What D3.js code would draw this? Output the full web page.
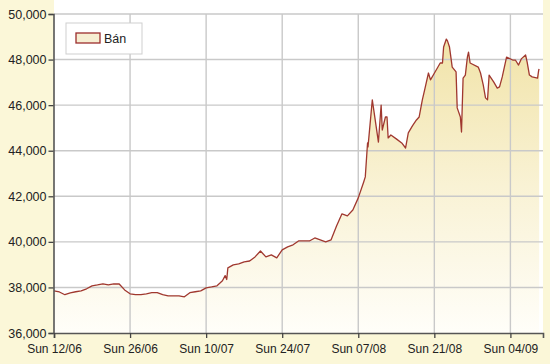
<!DOCTYPE html>
<html>
<head>
<meta charset="utf-8">
<script src="https://cdn.jsdelivr.net/npm/d3@7"></script>
<style>
  body { margin: 0; background: #fbf7d8; }
  svg { display: block; }
  text { font-family: "Liberation Sans", Arial, sans-serif; fill: #222; }
</style>
</head>
<body>
<svg width="550" height="364"></svg>
<script>
// DATA (2011, gold price "Bán", thousand VND)
const dates = [
  "06-12 00","06-13 00","06-14 00","06-15 00","06-16 00","06-17 00","06-18 00","06-19 00",
  "06-20 00","06-21 00","06-22 00","06-23 00","06-24 00","06-25 00","06-26 00","06-27 00",
  "06-28 00","06-29 00","06-30 00","07-01 00","07-02 00","07-03 00","07-04 00","07-05 00",
  "07-06 00","07-07 00","07-08 00","07-09 00","07-10 00","07-11 00","07-12 00","07-13 00",
  "07-13 12","07-13 19","07-14 00","07-15 00","07-16 00","07-17 00","07-18 00","07-19 00",
  "07-20 00","07-21 00","07-22 00","07-23 00","07-24 00","07-25 00","07-26 00","07-27 00",
  "07-28 00","07-29 00","07-30 00","07-31 00","08-01 00","08-02 00","08-03 00","08-04 00",
  "08-05 00","08-06 00","08-07 00","08-08 00","08-08 07","08-08 17","08-08 19","08-09 14",
  "08-10 17","08-11 05","08-11 10","08-12 00","08-12 07","08-12 12","08-13 00","08-14 00",
  "08-15 00","08-15 17","08-16 05","08-17 00","08-17 17","08-18 05","08-18 19","08-19 07",
  "08-19 22","08-20 07","08-21 00","08-22 02","08-22 12","08-22 17","08-23 05","08-23 10",
  "08-23 19","08-24 07","08-25 00","08-25 05","08-25 19","08-26 00","08-26 07","08-26 17",
  "08-27 02","08-27 07","08-27 14","08-29 02","08-29 12","08-30 00","08-30 10","08-30 19",
  "08-31 02","08-31 22","09-01 14","09-02 00","09-02 12","09-03 07","09-04 10","09-04 22",
  "09-05 12","09-06 00","09-06 19","09-07 02","09-07 12","09-08 00","09-09 00","09-09 05",
  "09-09 07"
];
const prices = [
  37850,37800,37680,37760,37810,37850,37940,38070,
  38110,38160,38110,38160,38150,37890,37720,37680,
  37680,37720,37770,37770,37680,37630,37630,37630,
  37590,37770,37810,37850,37980,38020,38070,38290,
  38520,38350,38860,38990,39030,39120,39160,39340,
  39600,39340,39430,39300,39650,39780,39870,40040,
  40040,40040,40170,40090,40000,40090,40700,41230,
  41140,41400,41930,42630,42850,44340,44170,46230,
  44380,46000,44910,45480,45480,44560,44690,44520,
  44340,44120,44780,45100,45350,45480,46230,46750,
  47410,47110,47400,47850,47850,48550,48900,48820,
  48550,47670,47460,45880,45480,44820,47190,47320,
  48110,48330,47850,47670,47410,46890,46320,46230,
  47320,47020,46750,46800,47240,48110,47980,47980,
  47760,48030,48200,47890,47320,47240,47190,47540,
  47590
];
const xTickLabels = ["Sun 12/06","Sun 26/06","Sun 10/07","Sun 24/07","Sun 07/08","Sun 21/08","Sun 04/09"];
const yTicks = [36000, 38000, 40000, 42000, 44000, 46000, 48000, 50000];
const seriesName = "Bán";

const svg = d3.select("svg");
const width = +svg.attr("width");
const height = +svg.attr("height");
const margin = { top: 14, left: 54, right: 7, bottom: 31 };
const innerWidth = width - margin.left - margin.right;
const innerHeight = height - margin.top - margin.bottom;

const parse = d3.timeParse("%Y-%m-%d %H");
const data = dates.map((d, i) => ({ date: parse("2011-" + d), value: prices[i] }));
const tickDates = xTickLabels.map(s => {
  const [dd, mm] = s.slice(4).split("/");
  return parse(`2011-${mm}-${dd} 00`);
});

const x = d3.scaleTime()
  .domain([parse("2011-06-12 00"), parse("2011-09-10 00")])
  .range([0, innerWidth]);
const y = d3.scaleLinear().domain([36000, 50000]).range([innerHeight, 0]);

// plot background (white, from very top down to x axis)
svg.append("rect")
  .attr("x", margin.left).attr("y", 0)
  .attr("width", innerWidth).attr("height", margin.top + innerHeight)
  .attr("fill", "#fff");

const defs = svg.append("defs");
const grad = defs.append("linearGradient")
  .attr("id", "areaFill")
  .attr("gradientUnits", "userSpaceOnUse")
  .attr("x1", 0).attr("y1", y(49000)).attr("x2", 0).attr("y2", y(36000));
grad.append("stop").attr("offset", "0%").attr("stop-color", "#f1e3a8");
grad.append("stop").attr("offset", "50%").attr("stop-color", "#f9f2d4");
grad.append("stop").attr("offset", "100%").attr("stop-color", "#fffef9");

const g = svg.append("g").attr("transform", `translate(${margin.left},${margin.top})`);

// area under the line
g.append("path")
  .datum(data)
  .attr("fill", "url(#areaFill)")
  .attr("d", d3.area().x(d => x(d.date)).y0(innerHeight).y1(d => y(d.value)));

// grid
g.append("g")
  .selectAll("line.h")
  .data(yTicks.slice(1))
  .join("line")
  .attr("x1", 0).attr("x2", innerWidth)
  .attr("y1", d => y(d)).attr("y2", d => y(d))
  .attr("stroke", "#c9c9c9").attr("stroke-width", 1.4);

g.append("g")
  .selectAll("line.v")
  .data(tickDates.slice(1))
  .join("line")
  .attr("x1", d => x(d)).attr("x2", d => x(d))
  .attr("y1", 0).attr("y2", innerHeight)
  .attr("stroke", "#c9c9c9").attr("stroke-width", 1.4);

// line
g.append("path")
  .datum(data)
  .attr("fill", "none")
  .attr("stroke", "#a0382f")
  .attr("stroke-width", 1.3)
  .attr("stroke-linejoin", "round")
  .attr("d", d3.line().x(d => x(d.date)).y(d => y(d.value)));

// axes
const yAxis = g.append("g")
  .attr("transform", "translate(-0.5,0)")
  .call(d3.axisLeft(y).tickValues(yTicks).tickFormat(d3.format(",")).tickSize(5).tickPadding(2));
const xAxis = g.append("g")
  .attr("transform", `translate(0,${innerHeight})`)
  .call(d3.axisBottom(x).tickValues(tickDates).tickFormat((d, i) => xTickLabels[i]).tickSize(5).tickPadding(4));

[yAxis, xAxis].forEach(a => {
  a.select(".domain").attr("stroke", "#555").attr("stroke-width", 1.6);
  a.selectAll(".tick line").attr("stroke", "#444").attr("stroke-width", 1.3);
  a.selectAll("text").attr("font-size", 12.5).attr("fill", "#222")
    .attr("font-family", "'Liberation Sans', Arial, sans-serif");
});
xAxis.selectAll("text").attr("font-size", 12).attr("dy", "0.9em");

// legend
const legend = svg.append("g").attr("transform", "translate(66,23)");
legend.append("rect")
  .attr("width", 76).attr("height", 31)
  .attr("fill", "#fff").attr("stroke", "#cfcfcf");
legend.append("rect")
  .attr("x", 10).attr("y", 10).attr("width", 24).attr("height", 10)
  .attr("fill", "#f6eed2").attr("stroke", "#9b2d2d").attr("stroke-width", 1.3);
legend.append("text")
  .attr("x", 38).attr("y", 20)
  .attr("font-size", 12.5)
  .text(seriesName);
</script>
</body>
</html>
